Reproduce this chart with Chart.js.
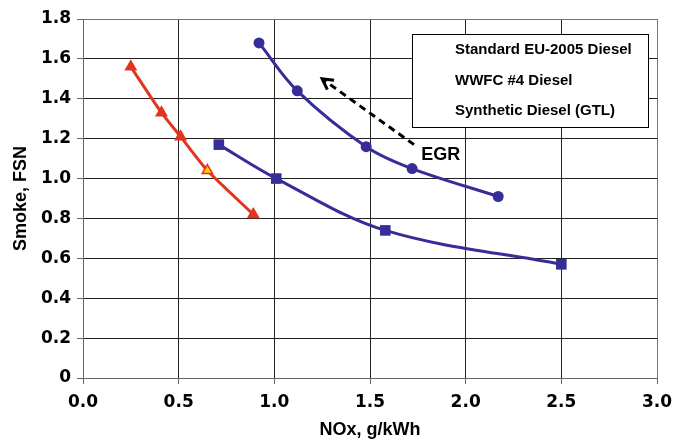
<!DOCTYPE html>
<html>
<head>
<meta charset="utf-8">
<script src="https://cdn.jsdelivr.net/npm/chart.js@4.4.0/dist/chart.umd.min.js"></script>
<style>
body { margin: 0; background: #fff; }
</style>
</head>
<body>
<canvas id="myChart" width="673" height="440"></canvas>
<script>
// series names shown in the legend box
var seriesNames = ['Standard EU-2005 Diesel', 'WWFC #4 Diesel', 'Synthetic Diesel (GTL)'];

// NOx (g/kWh) vs smoke (FSN)
var circleX = [0.92, 1.12, 1.48, 1.72, 2.17];
var circleY = [1.68, 1.44, 1.16, 1.05, 0.91];
var squareX = [0.71, 1.01, 1.58, 2.50];
var squareY = [1.17, 1.00, 0.74, 0.57];
var triangleX = [0.25, 0.41, 0.51, 0.65, 0.89];
var triangleY = [1.56, 1.33, 1.21, 1.04, 0.82];

var xTicks = [0, 0.5, 1, 1.5, 2, 2.5, 3];
var yTicks = [0, 0.2, 0.4, 0.6, 0.8, 1.0, 1.2, 1.4, 1.6, 1.8];

// EGR arrow, in data units
var arrowFrom = [1.73, 1.17];
var arrowTo = [1.25, 1.50];
var egrText = 'EGR';
var egrPos = [1.87, 1.12];

var blue = '#372d98';
var red = '#e3341f';
var yellow = '#ffd200';

function toPoints(xs, ys) {
  var pts = [];
  for (var i = 0; i < xs.length; i++) {
    pts.push({ x: xs[i], y: ys[i] });
  }
  return pts;
}

var triFill = triangleX.map(function (v, i) { return i === 3 ? yellow : red; });

// draws the legend box, the dashed EGR arrow and its label
var extras = {
  id: 'extras',
  afterDraw: function (chart) {
    var c = chart.ctx;
    var xs = chart.scales.x, ys = chart.scales.y;

    // arrow
    var x1 = xs.getPixelForValue(arrowFrom[0]), y1 = ys.getPixelForValue(arrowFrom[1]);
    var x2 = xs.getPixelForValue(arrowTo[0]), y2 = ys.getPixelForValue(arrowTo[1]);
    c.save();
    c.strokeStyle = '#000';
    c.lineWidth = 3;
    c.setLineDash([7, 5]);
    c.beginPath();
    c.moveTo(x1, y1);
    c.lineTo(x2, y2);
    c.stroke();
    c.setLineDash([]);
    var ang = Math.atan2(y2 - y1, x2 - x1);
    var len = 12;
    c.lineWidth = 3;
    c.beginPath();
    c.moveTo(x2 - len * Math.cos(ang - 0.5), y2 - len * Math.sin(ang - 0.5));
    c.lineTo(x2, y2);
    c.lineTo(x2 - len * Math.cos(ang + 0.5), y2 - len * Math.sin(ang + 0.5));
    c.stroke();

    // EGR label
    c.fillStyle = '#000';
    c.font = 'bold 18px "Liberation Sans", Arial, sans-serif';
    c.textAlign = 'center';
    c.textBaseline = 'middle';
    c.fillText(egrText, xs.getPixelForValue(egrPos[0]), ys.getPixelForValue(egrPos[1]));

    // legend box (text only)
    var bx = 412, by = 34, bw = 236, bh = 93;
    c.fillStyle = '#fff';
    c.fillRect(bx, by, bw, bh);
    c.strokeStyle = '#000';
    c.lineWidth = 1;
    c.strokeRect(bx + 0.5, by + 0.5, bw, bh);
    c.fillStyle = '#000';
    c.font = 'bold 15px "Liberation Sans", Arial, sans-serif';
    c.textAlign = 'left';
    for (var i = 0; i < seriesNames.length; i++) {
      c.fillText(seriesNames[i], 455, 50 + i * 30.5);
    }
    c.restore();
  }
};

const ctx = document.getElementById('myChart');

const chart = new Chart(ctx, {
  type: 'scatter',
  data: {
    datasets: [
      {
        label: seriesNames[0],
        data: toPoints(circleX, circleY),
        showLine: true,
        borderColor: blue,
        backgroundColor: blue,
        borderWidth: 3,
        tension: 0.35,
        pointStyle: 'circle',
        pointRadius: 5.5,
        pointBackgroundColor: blue,
        pointBorderColor: blue,
        pointBorderWidth: 0
      },
      {
        label: seriesNames[1],
        data: toPoints(squareX, squareY),
        showLine: true,
        borderColor: blue,
        backgroundColor: blue,
        borderWidth: 3,
        tension: 0.35,
        pointStyle: 'rect',
        pointRadius: 7.5,
        pointBackgroundColor: blue,
        pointBorderColor: blue,
        pointBorderWidth: 0
      },
      {
        label: seriesNames[2],
        data: toPoints(triangleX, triangleY),
        showLine: true,
        borderColor: red,
        backgroundColor: red,
        borderWidth: 3,
        tension: 0.2,
        pointStyle: 'triangle',
        pointRadius: 6,
        pointBackgroundColor: triFill,
        pointBorderColor: red,
        pointBorderWidth: 1.5
      }
    ]
  },
  options: {
    responsive: false,
    animation: false,
    layout: { padding: { top: 19, right: 16, left: 0, bottom: 0 } },
    plugins: {
      legend: { display: false },
      tooltip: { enabled: false }
    },
    scales: {
      x: {
        type: 'linear',
        min: 0,
        max: 3,
        afterBuildTicks: function (s) { s.ticks = xTicks.map(function (v) { return { value: v }; }); },
        afterFit: function (s) { s.height = 62; s.paddingLeft = 0; s.paddingRight = 0; },
        ticks: {
          color: '#000',
          padding: 8,
          font: { family: '"DejaVu Sans", sans-serif', size: 17, weight: 'bold' },
          callback: function (v) { return Number(v).toFixed(1); }
        },
        grid: {
          color: function (c) { return c.tick && c.tick.value === 3 ? '#777' : '#222'; },
          lineWidth: 1,
          tickLength: 6,
          tickColor: '#666'
        },
        border: { color: '#666', width: 1 },
        title: {
          display: true,
          text: 'NOx, g/kWh',
          color: '#000',
          padding: { top: 0, bottom: -1 },
          font: { family: '"Liberation Sans", Arial, sans-serif', size: 18, weight: 'bold' }
        }
      },
      y: {
        type: 'linear',
        min: 0,
        max: 1.8,
        afterBuildTicks: function (s) { s.ticks = yTicks.map(function (v) { return { value: v }; }); },
        afterFit: function (s) { s.width = 83; s.paddingTop = 0; s.paddingBottom = 0; },
        ticks: {
          color: '#000',
          padding: 6,
          font: { family: '"DejaVu Sans", sans-serif', size: 17, weight: 'bold' },
          callback: function (v) { return v === 0 ? '0' : Number(v).toFixed(1); }
        },
        grid: {
          color: function (c) { return c.tick && c.tick.value === 1.8 ? '#777' : '#222'; },
          lineWidth: 1,
          tickLength: 6,
          tickColor: '#666'
        },
        border: { color: '#666', width: 1 },
        title: {
          display: true,
          text: 'Smoke, FSN',
          color: '#000',
          padding: { top: 10, bottom: 0 },
          font: { family: '"Liberation Sans", Arial, sans-serif', size: 18, weight: 'bold' }
        }
      }
    }
  },
  plugins: [extras]
});
</script>
</body>
</html>
